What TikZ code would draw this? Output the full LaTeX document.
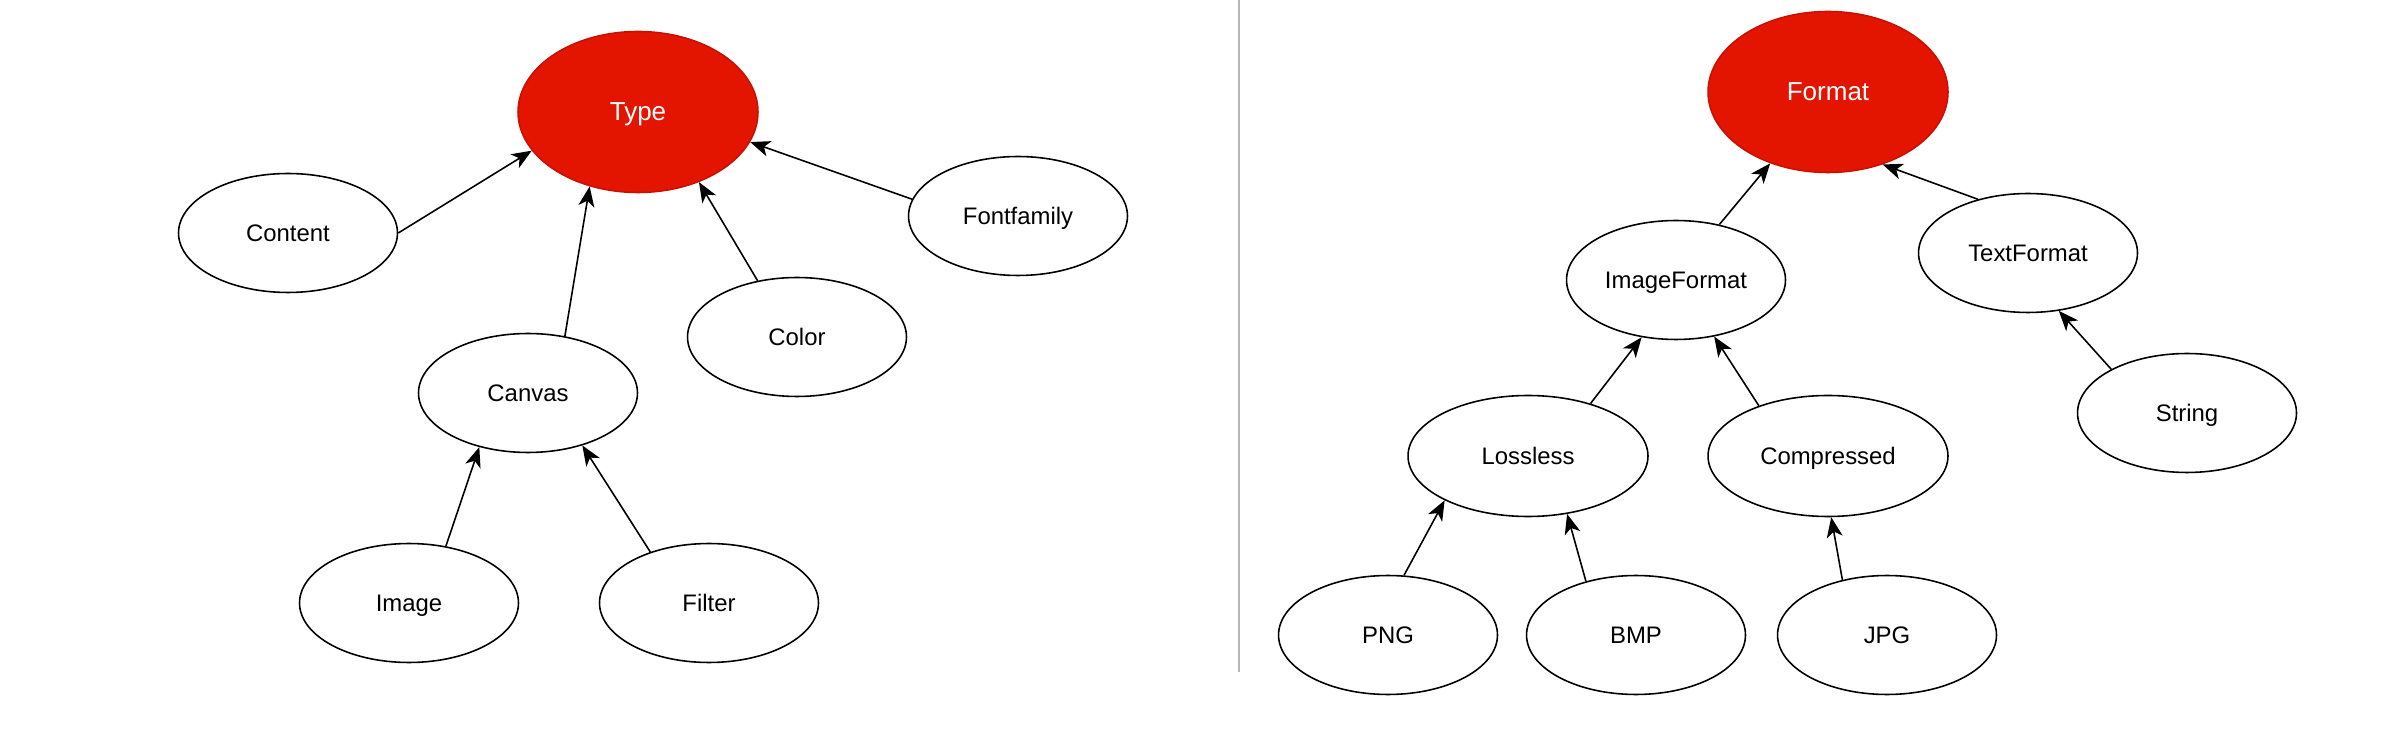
\documentclass[tikz,border=0pt]{standalone}
\usepackage{fontspec}
\setmainfont{Liberation Sans}
\usetikzlibrary{arrows.meta,shapes.geometric}
\definecolor{rootfill}{HTML}{E31400}
\definecolor{rootline}{HTML}{C81200}
\definecolor{divider}{HTML}{B8B8B8}

\begin{document}
\begin{tikzpicture}[x=0.02cm,y=-0.02cm,
    leaf/.style={ellipse,draw,line width=0.9pt,inner sep=0pt,minimum width=4.38cm,minimum height=2.38cm,text depth=0pt,font=\fontsize{13.6}{16}\selectfont},
    wide/.style={leaf,minimum width=4.8cm,minimum height=2.42cm},
    root/.style={ellipse,draw=rootline,fill=rootfill,line width=0.9pt,inner sep=0pt,minimum width=4.8cm,minimum height=3.22cm,text depth=0pt,text=white,font=\fontsize{14.8}{17}\selectfont},
    isa/.style={line width=0.9pt,-{Stealth[length=0.4cm,width=0.32cm,inset=0.11cm]}}]
      \useasboundingbox (0,0) rectangle (2400,732);
      \draw[divider,line width=1.2pt] (1239,0) -- (1239,672);

      \node[root] (type) at (638,112) {Type};
      \node[leaf] (content) at (288,233) {Content};
      \node[leaf] (fontfamily) at (1018,216) {Fontfamily};
      \node[leaf] (color) at (797,337) {Color};
      \node[leaf] (canvas) at (528,393) {Canvas};
      \node[leaf] (image) at (409,603) {Image};
      \node[leaf] (filter) at (709,603) {Filter};

      \draw[isa] (content.east) -- (type.200);
      \draw[isa] (canvas.57) -- (type.237);
      \draw[isa] (color.125) -- (type.311);
      \draw[isa] (fontfamily.171) -- (type.345);
      \draw[isa] (image.57) -- (canvas.228);
      \draw[isa] (filter.139) -- (canvas.316);

      \node[root] (format) at (1828,92) {Format};
      \node[leaf] (imageformat) at (1676,280) {ImageFormat};
      \node[leaf] (textformat) at (2028,253) {TextFormat};
      \node[wide] (lossless) at (1528,456) {Lossless};
      \node[wide] (compressed) at (1828,456) {Compressed};
      \node[leaf] (string) at (2187,413) {String};
      \node[leaf] (png) at (1388,635) {PNG};
      \node[leaf] (bmp) at (1636,635) {BMP};
      \node[leaf] (jpg) at (1887,635) {JPG};

      \draw[isa] (imageformat.52) -- (format.231);
      \draw[isa] (textformat.133) -- (format.307);
      \draw[isa] (string.150) -- (textformat.298);
      \draw[isa] (lossless.40) -- (imageformat.239);
      \draw[isa] (compressed.144) -- (imageformat.304);
      \draw[isa] (png.75) -- (lossless.208);
      \draw[isa] (bmp.133) -- (lossless.304);
      \draw[isa] (jpg.129) -- (compressed.273);

    \end{tikzpicture}
\end{document}
